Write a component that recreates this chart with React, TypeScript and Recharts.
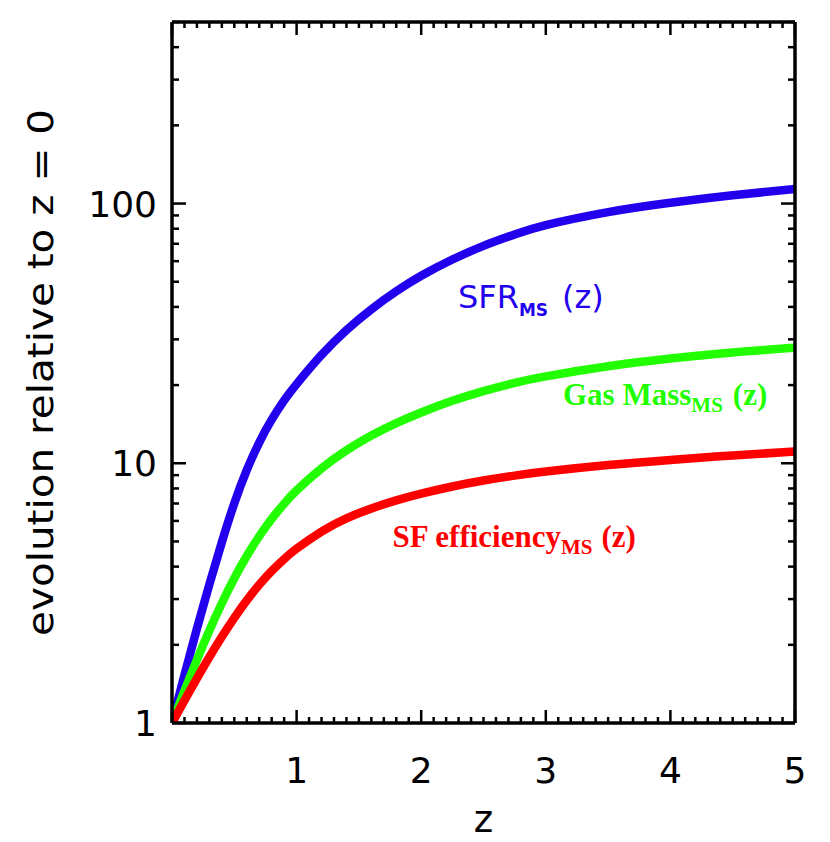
import {
  LineChart,
  Line,
  XAxis,
  YAxis,
  ReferenceDot,
  Label,
} from "recharts";

// redshift samples
const zValues = [
  0, 0.1, 0.2, 0.3, 0.4, 0.5, 0.6, 0.7, 0.8, 0.9, 1.0, 1.2, 1.4, 1.6, 1.8,
  2.0, 2.25, 2.5, 2.75, 3.0, 3.5, 4.0, 4.5, 5.0,
];
const sfrMS = [
  1, 1.531, 2.307, 3.42, 4.966, 7.015, 9.419, 12.02, 14.72, 17.46, 20.18,
  26.12, 32.58, 39.17, 45.92, 52.72, 60.88, 68.71, 76.03, 82.6, 92.68, 100.7,
  107.6, 113.8,
];
const gasMassMS = [
  1, 1.33, 1.75, 2.27, 2.891, 3.606, 4.395, 5.236, 6.109, 6.99, 7.862, 9.561,
  11.21, 12.78, 14.27, 15.69, 17.4, 18.97, 20.39, 21.6, 23.62, 25.31, 26.72,
  27.82,
];
const sfEfficiencyMS = [
  1, 1.222, 1.486, 1.795, 2.148, 2.541, 2.965, 3.404, 3.846, 4.276, 4.688,
  5.458, 6.138, 6.699, 7.194, 7.638, 8.138, 8.58, 8.964, 9.29, 9.84, 10.3,
  10.72, 11.09,
];

const xTicks = Array.from({ length: 51 }, (_, i) => i / 10);
const xTickLabels = ["1", "2", "3", "4", "5"];
const yTicks = [
  1, 2, 3, 4, 5, 6, 7, 8, 9, 10, 20, 30, 40, 50, 60, 70, 80, 90, 100, 200,
  300, 400, 500,
];
const yTickLabels = ["1", "10", "100"];

const data = zValues.map((z, i) => ({
  z,
  sfr: sfrMS[i],
  gas: gasMassMS[i],
  eff: sfEfficiencyMS[i],
}));

const BLUE = "#2200ee";
const GREEN = "#22ff00";
const RED = "#ff0000";
const SANS = "'DejaVu Sans', sans-serif";
const SERIF = "'Liberation Serif', 'Times New Roman', serif";

const isMajorX = (v: number) => Math.abs(v - Math.round(v)) < 1e-6;
const isMajorY = (v: number) => v === 1 || v === 10 || v === 100;

// ticks are drawn pointing into the plot, labels only on bottom / left
const BottomTick = (p: any) => {
  const v = p.payload.value;
  const major = isMajorX(v);
  const lbl = String(Math.round(v));
  return (
    <g>
      <line x1={p.x} x2={p.x} y1={p.y} y2={p.y - (major ? 13 : 6)} stroke="#000" strokeWidth={2.5} />
      {major && xTickLabels.includes(lbl) && (
        <text x={p.x} y={p.y + 60} textAnchor="middle" fontSize={36} fontFamily={SANS} fill="#000">
          {lbl}
        </text>
      )}
    </g>
  );
};

const TopTick = (p: any) => {
  const major = isMajorX(p.payload.value);
  return <line x1={p.x} x2={p.x} y1={p.y} y2={p.y + (major ? 13 : 6)} stroke="#000" strokeWidth={2.5} />;
};

const LeftTick = (p: any) => {
  const v = p.payload.value;
  const major = isMajorY(v);
  return (
    <g>
      <line x1={p.x} x2={p.x + (major ? 14 : 7)} y1={p.y} y2={p.y} stroke="#000" strokeWidth={2.5} />
      {major && yTickLabels.includes(String(v)) && (
        <text x={p.x - 15} y={p.y + 13} textAnchor="end" fontSize={36} fontFamily={SANS} fill="#000">
          {String(v)}
        </text>
      )}
    </g>
  );
};

const RightTick = (p: any) => {
  const major = isMajorY(p.payload.value);
  return <line x1={p.x} x2={p.x - (major ? 14 : 7)} y1={p.y} y2={p.y} stroke="#000" strokeWidth={2.5} />;
};

const YTitle = (p: any) => {
  const vb = p.viewBox;
  const x = vb.x - 19;
  const y = vb.y + vb.height / 2;
  return (
    <text
      x={x}
      y={y}
      transform={`rotate(-90 ${x} ${y})`}
      textAnchor="middle"
      fontSize={35}
      fontFamily={SANS}
      fill="#000"
      textLength={527}
      lengthAdjust="spacingAndGlyphs"
    >
      evolution relative to z = 0
    </text>
  );
};

const XTitle = (p: any) => {
  const vb = p.viewBox;
  return (
    <text x={vb.x + vb.width / 2} y={vb.y + 109} textAnchor="middle" fontSize={37} fontFamily={SANS} fill="#000">
      z
    </text>
  );
};

const SfrLabel = (p: any) => (
  <text x={p.cx} y={p.cy} fill={BLUE} fontSize={32} fontFamily={SANS}>
    SFR
    <tspan fontSize={17} fontWeight="bold" dy={8}>MS</tspan>
    <tspan dy={-8} dx={14}>(z)</tspan>
  </text>
);

const GasLabel = (p: any) => (
  <text x={p.cx} y={p.cy} fill={GREEN} fontSize={31} fontWeight="bold" fontFamily={SERIF}>
    Gas Mass
    <tspan fontSize={21} dy={7}>MS</tspan>
    <tspan dy={-7} dx={10}>(z)</tspan>
  </text>
);

const EffLabel = (p: any) => (
  <text x={p.cx} y={p.cy} fill={RED} fontSize={31} fontWeight="bold" fontFamily={SERIF}>
    SF efficiency
    <tspan fontSize={21} dy={7}>MS</tspan>
    <tspan dy={-7} dx={9}>(z)</tspan>
  </text>
);

export default function App() {
  return (
    <div style={{ position: "absolute", left: 0, top: 0, background: "#fff" }}>
      <LineChart
        width={830}
        height={842}
        data={data}
        margin={{ top: 12, right: 25, bottom: 39, left: 72 }}
      >
        <XAxis
          dataKey="z"
          type="number"
          domain={[0, 5]}
          allowDataOverflow
          ticks={xTicks}
          interval={0}
          tickSize={0}
          tickMargin={0}
          tickLine={false}
          height={80}
          axisLine={{ stroke: "#000", strokeWidth: 3.5 }}
          tick={<BottomTick />}
        >
          <Label content={<XTitle />} />
        </XAxis>
        <XAxis
          xAxisId="top"
          orientation="top"
          dataKey="z"
          type="number"
          domain={[0, 5]}
          allowDataOverflow
          ticks={xTicks}
          interval={0}
          tickSize={0}
          tickMargin={0}
          tickLine={false}
          height={10}
          axisLine={{ stroke: "#000", strokeWidth: 3.5 }}
          tick={<TopTick />}
        />
        <YAxis
          type="number"
          scale="log"
          domain={[1, 500]}
          allowDataOverflow
          ticks={yTicks}
          interval={0}
          tickSize={0}
          tickMargin={0}
          tickLine={false}
          width={100}
          axisLine={{ stroke: "#000", strokeWidth: 3.5 }}
          tick={<LeftTick />}
        >
          <Label content={<YTitle />} />
        </YAxis>
        <YAxis
          yAxisId="right"
          orientation="right"
          type="number"
          scale="log"
          domain={[1, 500]}
          allowDataOverflow
          ticks={yTicks}
          interval={0}
          tickSize={0}
          tickMargin={0}
          tickLine={false}
          width={10}
          axisLine={{ stroke: "#000", strokeWidth: 3.5 }}
          tick={<RightTick />}
        />

        {/* invisible series so the mirrored axes get a scale */}
        <Line
          xAxisId="top"
          yAxisId="right"
          dataKey="sfr"
          stroke="none"
          dot={false}
          activeDot={false}
          isAnimationActive={false}
        />

        <Line type="natural" dataKey="sfr" stroke={BLUE} strokeWidth={8.5} dot={false} isAnimationActive={false} />
        <Line type="natural" dataKey="gas" stroke={GREEN} strokeWidth={8.5} dot={false} isAnimationActive={false} />
        <Line type="natural" dataKey="eff" stroke={RED} strokeWidth={8.5} dot={false} isAnimationActive={false} />

        <ReferenceDot x={2.295} y={39.7} r={0} shape={<SfrLabel />} />
        <ReferenceDot x={3.138} y={16.8} r={0} shape={<GasLabel />} />
        <ReferenceDot x={1.77} y={4.76} r={0} shape={<EffLabel />} />
      </LineChart>
    </div>
  );
}
